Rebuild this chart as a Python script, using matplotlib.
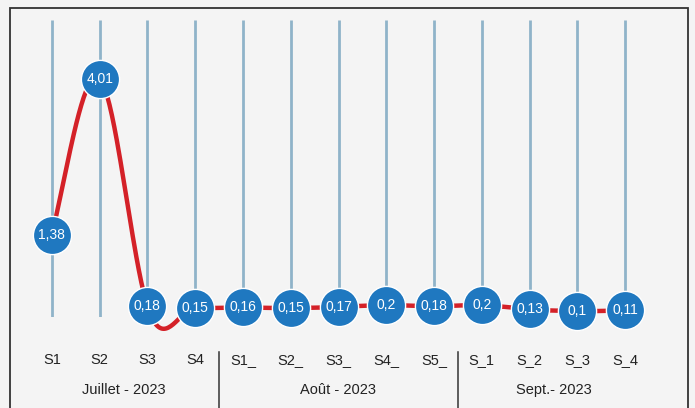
import numpy as np
import matplotlib
matplotlib.use("Agg")
import matplotlib.pyplot as plt
from matplotlib.patches import Rectangle
from matplotlib.lines import Line2D

plt.rcParams['font.family'] = ['Liberation Sans', 'DejaVu Sans']

semaines = ["S1", "S2", "S3", "S4", "S1_", "S2_", "S3_", "S4_", "S5_", "S_1", "S_2", "S_3", "S_4"]
valeurs = [1.38, 4.01, 0.18, 0.15, 0.16, 0.15, 0.17, 0.2, 0.18, 0.2, 0.13, 0.1, 0.11]
mois = ["Juillet - 2023", "Août - 2023", "Sept.- 2023"]
nb_semaines = [4, 5, 4]

W, H = 695, 408
BLEU = '#1f78c0'
ROUGE = '#d42128'


def smooth(xs, ys, n=40, k=1.3):
	# catmull-rom like the excel "smoothed line"
	xs = np.asarray(xs, float)
	ys = np.asarray(ys, float)
	out_x, out_y = [], []
	for i in range(len(xs) - 1):
		p0 = ys[i - 1] if i > 0 else ys[i]
		p3 = ys[i + 2] if i + 2 < len(ys) else ys[i + 1]
		p1, p2 = ys[i], ys[i + 1]
		m1 = k * (p2 - p0) / (2 if i > 0 else 1)
		m2 = k * (p3 - p1) / (2 if i + 2 < len(ys) else 1)
		t = np.linspace(0, 1, n)
		h00 = 2*t**3 - 3*t**2 + 1
		h10 = t**3 - 2*t**2 + t
		h01 = -2*t**3 + 3*t**2
		h11 = t**3 - t**2
		out_x.extend(xs[i] + t * (xs[i + 1] - xs[i]))
		out_y.extend(h00*p1 + h10*m1 + h01*p2 + h11*m2)
	return np.array(out_x), np.array(out_y)


def main():
	fig = plt.figure(figsize=(W / 100, H / 100), dpi=100)
	fig.patch.set_facecolor('#f4f4f4')
	ax = fig.add_axes([28 / W, 1 - 317 / H, 621 / W, 297 / H])
	ax.patch.set_alpha(0)

	x = np.arange(len(semaines))
	ax.set_xlim(-0.5, len(semaines) - 0.5)
	ax.set_ylim(0, 5)

	ax.vlines(x, 0, 5, color='#8fb3c9', lw=2, zorder=1)

	sx, sy = smooth(x, valeurs)
	ax.plot(sx, sy, color=ROUGE, lw=3.2, zorder=2, clip_on=False, solid_capstyle='round')
	ax.plot(x, valeurs, 'o', ms=27.5, color=BLEU, mec='white', mew=1, zorder=3, clip_on=False)
	for xi, v in zip(x, valeurs):
		ax.text(xi, v, f"{v:g}".replace('.', ','), color='white', fontsize=10,
				ha='center', va='center', zorder=4)

	ax.set_xticks(x)
	ax.set_xticklabels(semaines, fontsize=10.5, color='#222222')
	ax.tick_params(axis='x', length=0, pad=26)
	ax.set_yticks([])
	for s in ax.spines.values():
		s.set_visible(False)

	# group labels and separators
	debut = -0.5
	for nom, n in zip(mois, nb_semaines):
		fin = debut + n
		xf = ax.transData.transform((fin, 0))[0] / W
		centre = ax.transData.transform(((debut + fin) / 2, 0))[0] / W
		fig.text(centre, 1 - 390 / H, nom, fontsize=10.5, color='#222222', ha='center', va='center')
		if fin < len(semaines) - 0.5:
			fig.add_artist(Line2D([xf, xf], [1 - 352 / H, 0], color='#333333', lw=1.1))
		debut = fin

	fig.add_artist(Rectangle((10 / W, -0.05), 678 / W, (H - 8) / H + 0.05, transform=fig.transFigure,
							 fill=False, edgecolor='#333333', lw=1.3))

	fig.savefig('out.png', dpi=100, facecolor=fig.get_facecolor())


if __name__ == "__main__":
	main()
